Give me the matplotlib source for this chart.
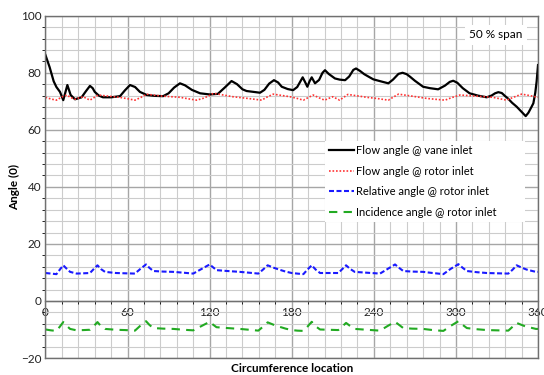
import matplotlib
matplotlib.use('Agg')
from matplotlib import pyplot as plt
from matplotlib.ticker import MultipleLocator

plt.rcParams['font.family'] = ['Lato', 'DejaVu Sans']

# flow angle @ vane inlet (black)
vane_x = [0, 3, 6, 8, 10.6, 13, 16, 18.4, 21.6, 26.4, 29.5, 32.5, 34.5, 36, 39, 42,
          48, 54.5, 58, 61.8, 65.5, 69, 74, 80, 86, 90, 94, 98.3, 102, 107, 113, 120,
          126, 131, 136, 140, 144, 147, 152, 156.8, 160, 163.5, 167, 170, 172.7, 177,
          181, 184, 188, 190, 191.4, 193, 194.6, 197, 200, 202.5, 204.3, 207, 211.6,
          215, 219, 222, 225, 227, 230, 233, 237, 239.6, 245, 250.6, 254, 258, 261,
          264, 266.5, 270, 276, 281, 287, 292, 295.5, 298, 301, 305, 310, 316, 322.5,
          326, 328.6, 331, 333.5, 336, 338, 341, 344.4, 348, 351, 353, 355, 356.6,
          358, 359, 360]
vane_y = [86.2, 82, 77, 75, 73.3, 70.4, 75.7, 72.2, 70.7, 71.4, 73.5, 75.4, 74.6, 73.3, 72, 71.4,
          71.4, 71.8, 73.8, 75.7, 75, 73.3, 72.2, 71.9, 71.8, 72.8, 74.8, 76.3, 75.6, 74, 72.8, 72.4,
          72.6, 74.8, 77.1, 76, 74.2, 73.6, 73.3, 73, 74, 76.2, 77.4, 76.6, 75.1, 74.3,
          73.9, 75, 78.4, 76.5, 75.1, 77, 78.4, 76.3, 77.5, 80, 80.9, 79.6, 78,
          77.6, 77.4, 78.7, 81, 81.5, 80.6, 79.5, 78.4, 77.7, 77, 76.3, 77.6, 79.6, 80,
          79.5, 78.6, 77.2, 75.1, 74.6, 74.2, 75.5, 76.8, 77.2, 76.5, 74.6, 72.8, 72, 71.4,
          72, 72.8, 73.2, 72.9, 71.8, 71, 69.5, 68.1, 66.3, 64.8, 66, 67.8, 69.3,
          73, 77, 82.7]

# flow angle @ rotor inlet (red)
rotor_x = [0, 4, 8, 12, 15.5, 18.5, 21.6, 24.5, 27.6, 30, 32.5, 35.5, 38.6, 46, 54, 60,
           65.4, 69.5, 74, 80, 86, 92, 98.3, 104, 110.5, 115, 119, 122.7, 130, 137, 148,
           158, 162, 166.5, 172, 178.7, 184, 188.5, 192, 195.7, 200, 204, 207, 210,
           212.5, 215, 218, 221, 228, 234.8, 242, 250.6, 254, 258, 268, 278.7, 285,
           292, 297, 303, 315, 327, 332, 337, 342, 348, 354, 360]
rotor_y = [71.4, 70.8, 70.4, 71.5, 72.2, 71.3, 70.7, 71.2, 71.6, 71, 70.4, 71.3, 72.2, 71.8, 71.4, 70.9,
           70.4, 71.3, 72.5, 72.1, 71.8, 71.6, 71.4, 70.9, 70.4, 71, 71.8, 72.8, 72.2, 71.6, 71,
           70.4, 71.5, 72.5, 72.1, 71.6, 71, 70.4, 71.3, 72.2, 71.2, 70.4, 71, 71.6,
           71, 70.4, 71.4, 72.4, 71.9, 71.4, 71, 70.4, 71.4, 72.5, 71.8, 71, 70.7,
           70.4, 71.3, 72.2, 71.8, 71.4, 70.9, 70.4, 71.4, 72.5, 72, 71.4]

# relative and incidence angle @ rotor inlet (blue, green)
rel_x = [0, 4, 8, 10.5, 13, 15.5, 18, 22.8, 28, 32.5, 35.5, 38, 40.5, 43.5, 51.5, 58,
         65.4, 69.5, 73.5, 76, 78.8, 86, 93.5, 101, 108, 114, 120, 122.5, 125, 133, 142,
         149, 155.6, 159, 162.4, 166.5, 171.4, 175.5, 180, 184, 188.5, 191.5, 194.6,
         197.5, 200.7, 207, 214, 217, 219.7, 222.5, 226, 235, 244.5, 250, 255.5, 258.5,
         261.5, 268, 276, 283, 290.8, 296, 301.8, 305, 308, 315, 322.5, 330, 338.3,
         341.5, 344.4, 348, 351.7, 355, 358.5, 360]
rel_y = [9.8, 9.6, 9.4, 11, 12.5, 11.3, 10.2, 9.6, 9.7, 9.8, 11.3, 12.5, 11.2, 10.2, 9.8, 9.7,
         9.6, 11.3, 12.8, 11.6, 10.5, 10.3, 10.2, 9.9, 9.6, 11.2, 12.8, 11.8, 10.8, 10.5, 10.2,
         9.9, 9.6, 11, 12.5, 11.7, 10.9, 10.3, 9.8, 9.6, 9.4, 11, 12.5,
         11, 9.8, 9.8, 9.8, 11.2, 12.5, 11.3, 10.2, 9.9, 9.6, 11.2, 12.8, 11.6,
         10.5, 10.3, 10.2, 9.8, 9.4, 11.2, 12.9, 11.6, 10.5, 10.1, 9.8, 9.7, 9.6,
         11, 12.5, 11.7, 11, 10.6, 10.2, 10.2]
inc_y = [-10.0, -10.3, -10.5, -9.0, -7.4, -8.7, -9.8, -10.3, -10.2, -10.1, -8.7, -7.4, -8.8, -9.8, -10.1, -10.2,
         -10.4, -8.6, -7.1, -8.4, -9.5, -9.7, -9.8, -10.1, -10.3, -8.8, -7.3, -8.3, -9.2, -9.5, -9.8,
         -10.1, -10.4, -9.0, -7.5, -8.3, -9.1, -9.7, -10.2, -10.4, -10.5, -9.0, -7.3,
         -8.9, -10.0, -10.1, -10.2, -8.9, -7.7, -8.7, -9.8, -10.1, -10.4, -8.8, -7.3, -8.4,
         -9.5, -9.7, -9.8, -10.2, -10.5, -8.8, -7.1, -8.4, -9.5, -9.9, -10.2, -10.3, -10.4,
         -9.0, -7.7, -8.4, -9.1, -9.4, -9.8, -9.8]

fig = plt.figure(figsize=(5.44, 3.75), dpi=100)
ax = fig.add_axes([0.0836, 0.0453, 0.9054, 0.9128])

ax.set_xlim(0, 360)
ax.set_ylim(-20, 100)
ax.xaxis.set_major_locator(MultipleLocator(60))
ax.xaxis.set_minor_locator(MultipleLocator(12))
ax.yaxis.set_major_locator(MultipleLocator(20))
ax.yaxis.set_minor_locator(MultipleLocator(4))
ax.grid(which='minor', color='#cccccc', lw=0.8)
ax.grid(which='major', color='#a6a6a6', lw=1.0)
ax.set_axisbelow(True)

for s in ax.spines.values():
    s.set_color('#707070')
    s.set_linewidth(1.0)
ax.spines['bottom'].set_position(('data', 0))
ax.axhline(-20, color='#707070', lw=1.0, clip_on=False, zorder=5)
ax.tick_params(length=0, labelsize=8.5, colors='#222222', pad=3)
ax.tick_params(axis='x', pad=4)

ax.plot(vane_x, vane_y, color='black', lw=1.6, label='Flow angle @ vane inlet')
ax.plot(rotor_x, rotor_y, color='#ff3333', lw=1.2, dashes=(1, 1.1),
        label='Flow angle @ rotor inlet')
ax.plot(rel_x, rel_y, color='#1a1aff', lw=1.5, dashes=(2.4, 1.2),
        label='Relative angle @ rotor inlet')
ax.plot(rel_x, inc_y, color='#22aa22', lw=1.5, dashes=(4, 3),
        label='Incidence angle @ rotor inlet')

leg = ax.legend(loc='lower left', bbox_to_anchor=(0.567, 0.397, 0.407, 0.249),
                mode='expand', fontsize=8, handlelength=2.2, handletextpad=0.2,
                borderaxespad=0, labelspacing=0.85, fancybox=False, framealpha=1)
leg.get_frame().set_edgecolor('none')

ax.text(0.915, 0.944, '50 % span', transform=ax.transAxes, ha='center', va='center',
        fontsize=8.5, bbox=dict(facecolor='white', edgecolor='none', pad=3))

ax.set_xlabel('Circumference location', fontsize=8.5, fontweight='bold')
ax.xaxis.set_label_coords(0.5, -0.015)
ax.set_ylabel('Angle (0)', fontsize=8.5, fontweight='bold')
ax.yaxis.set_label_coords(-0.052, 0.5)

fig.savefig('out.png')
